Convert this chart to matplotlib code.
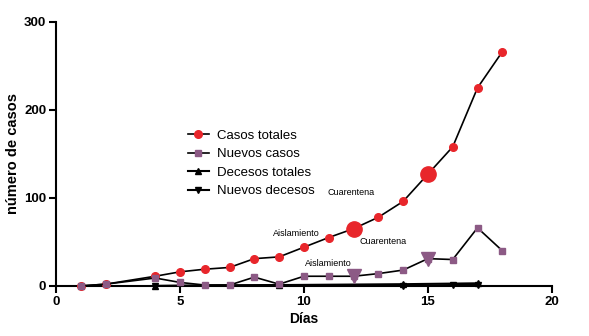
import matplotlib.pyplot as plt

plt.rcParams["font.family"] = ["Liberation Sans", "DejaVu Sans"]

# Cases and deaths per day
dias = [1, 2, 4, 5, 6, 7, 8, 9, 10, 11, 12, 13, 14, 15, 16, 17, 18]
casos_totales = [0, 2, 11, 16, 19, 21, 31, 33, 44, 55, 65, 78, 96, 127, 158, 225, 266]
nuevos_casos = [0, 2, 9, 4, 1, 1, 10, 2, 11, 11, 11, 14, 18, 31, 30, 66, 40]

dias_decesos = [4, 9, 14, 17]
decesos_totales = [0, 1, 2, 3]
dias_nuevos_decesos = [4, 9, 14, 16, 17]
nuevos_decesos = [0, 1, 0, 1, 1]

# Measures taken: isolation (day 12) and quarantine (day 15)
eventos = {"Aislamiento": 12, "Cuarentena": 15}

rojo = "#e8262b"
morado = "#8c5a85"

fig = plt.figure(figsize=(5.89, 3.36), dpi=100)
ax = fig.add_axes([0.095, 0.149, 0.842, 0.786])

ax.plot(dias, casos_totales, "-", color="black", lw=1.2, marker="o", ms=5.5,
        mfc=rojo, mec=rojo, clip_on=False, zorder=3, label="Casos totales")
ax.plot(dias, nuevos_casos, "-", color="black", lw=1.2, marker="s", ms=5,
        mfc=morado, mec=morado, clip_on=False, zorder=3, label="Nuevos casos")
ax.plot(dias_decesos, decesos_totales, "-", color="black", lw=1.5, marker="^",
        ms=4, clip_on=False, zorder=2, label="Decesos totales")
ax.plot(dias_nuevos_decesos, nuevos_decesos, "-", color="black", lw=1.5,
        marker="v", ms=4, clip_on=False, zorder=2, label="Nuevos decesos")

# Larger markers on the days of each measure
for nombre, dia in eventos.items():
    i = dias.index(dia)
    ax.plot(dia, casos_totales[i], "o", color=rojo, ms=11, zorder=4)
    ax.plot(dia, nuevos_casos[i], "v", color=morado, ms=10, zorder=4)

ax.text(9.7, 60, "Aislamiento", fontsize=6.5, ha="center", va="center")
ax.text(11.9, 106, "Cuarentena", fontsize=6.5, ha="center", va="center")
ax.text(13.2, 50, "Cuarentena", fontsize=6.5, ha="center", va="center")
ax.text(11.0, 25, "Aislamiento", fontsize=6.5, ha="center", va="center")

ax.set_xlim(0, 20)
ax.set_ylim(0, 300)
ax.set_xticks([0, 5, 10, 15, 20])
ax.set_yticks([0, 100, 200, 300])
ax.spines["top"].set_visible(False)
ax.spines["right"].set_visible(False)
ax.spines["left"].set_linewidth(1.5)
ax.spines["bottom"].set_linewidth(1.5)
ax.tick_params(direction="out", length=5, width=1.5, labelsize=9.5, pad=2)
for lbl in ax.get_xticklabels() + ax.get_yticklabels():
    lbl.set_fontweight("bold")

ax.set_xlabel("Días", fontsize=10, fontweight="bold", labelpad=3)
ax.set_ylabel("número de casos", fontsize=10.5, fontweight="bold", labelpad=3)

ax.legend(loc="upper left", bbox_to_anchor=(0.252, 0.617), frameon=False,
          fontsize=9.5, handlelength=1.6, handletextpad=0.6, labelspacing=0.47,
          borderpad=0)

plt.savefig("out.png", dpi=100)
